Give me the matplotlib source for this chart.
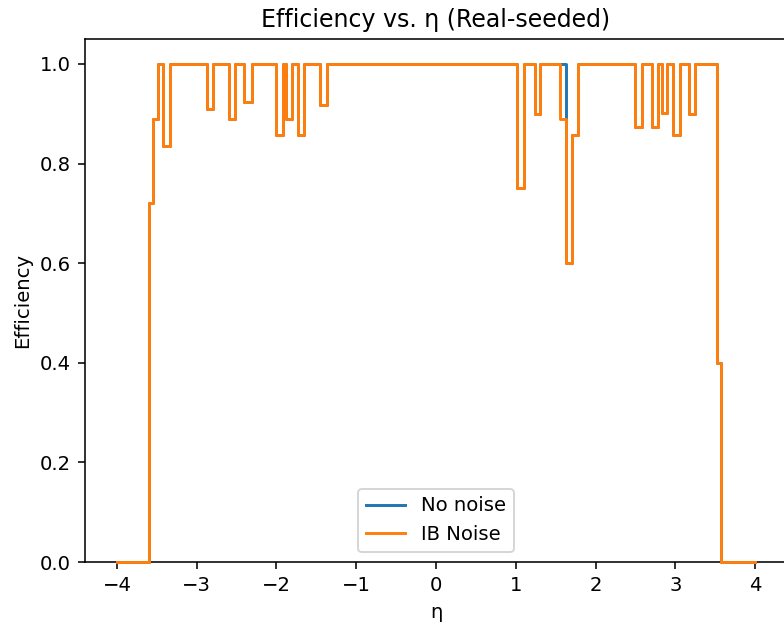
import matplotlib
matplotlib.use("Agg")
import matplotlib.pyplot as plt

# bin edges in eta
eta_edges = [-4.0, -3.60, -3.55, -3.48, -3.42, -3.335, -2.875, -2.80, -2.60, -2.525,
             -2.41, -2.31, -2.0, -1.92, -1.88, -1.80, -1.73, -1.655, -1.455, -1.37,
             1.02, 1.107, 1.24, 1.30, 1.553, 1.628, 1.71, 1.784, 2.495, 2.587,
             2.712, 2.787, 2.83, 2.893, 2.976, 3.06, 3.172, 3.248, 3.52, 3.574, 4.0]

eff_ib_noise = [0.0, 0.72, 0.89, 1.0, 0.835, 1.0, 0.91, 1.0, 0.89, 1.0,
                0.923, 1.0, 0.857, 1.0, 0.89, 1.0, 0.857, 1.0, 0.918, 1.0,
                0.75, 1.0, 0.90, 1.0, 0.89, 0.6, 0.857, 1.0, 0.874, 1.0,
                0.874, 1.0, 0.902, 1.0, 0.857, 1.0, 0.90, 1.0, 0.40, 0.0]

eff_no_noise = [0.0, 0.72, 0.89, 1.0, 0.835, 1.0, 0.91, 1.0, 0.89, 1.0,
                0.923, 1.0, 0.857, 1.0, 0.89, 1.0, 0.857, 1.0, 0.918, 1.0,
                0.75, 1.0, 0.90, 1.0, 1.0, 0.6, 0.857, 1.0, 0.874, 1.0,
                0.874, 1.0, 0.902, 1.0, 0.857, 1.0, 0.90, 1.0, 0.40, 0.0]

dpi = 141.5
fig = plt.figure(figsize=(784 / dpi, 625 / dpi), dpi=dpi)
ax = fig.add_axes([85 / 784, 63 / 625, 702 / 784, 523 / 625])

# unclipped and above the spines so the zero bins at the edges stay visible
ax.step(eta_edges, eff_no_noise + eff_no_noise[-1:], where="post", label="No noise",
        zorder=3, clip_on=False)
ax.step(eta_edges, eff_ib_noise + eff_ib_noise[-1:], where="post", label="IB Noise",
        zorder=3, clip_on=False)

ax.set_xlim(-4.4, 4.4)
ax.set_ylim(0, 1.05)
ax.set_xlabel("η")
ax.set_ylabel("Efficiency")
ax.set_title("Efficiency vs. η (Real-seeded)")
ax.legend(loc="lower center")

fig.savefig("out.png", dpi=dpi)
